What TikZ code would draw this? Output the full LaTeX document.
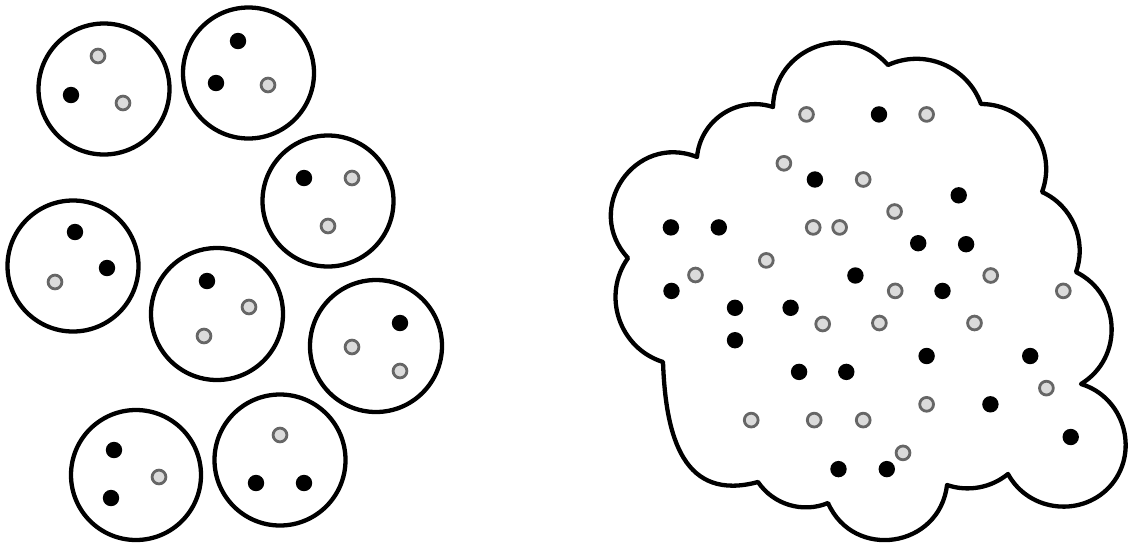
\documentclass[tikz,border=0pt]{standalone}
\definecolor{ringc}{gray}{0.4}
\definecolor{fillc}{gray}{0.86}
\tikzset{
  cell/.style={circle, draw=black, line width=4.3pt, minimum size=131pt, inner sep=0pt},
  blackdot/.style={fill=black},
  greydot/.style={fill=fillc, draw=ringc, line width=2.8pt},
  cloudline/.style={draw=black, line width=4.3pt, line join=round},
  bump/.style 2 args={bend left=#1, looseness=#2}
}
\newcommand\BD[1]{\fill[blackdot] (#1) circle[radius=8.2pt];}
\newcommand\GD[1]{\filldraw[greydot] (#1) circle[radius=6.9pt];}
\begin{document}
\begin{tikzpicture}[x=1pt,y=-1pt]
\useasboundingbox (0,0) rectangle (1129,542);
% ---- separate cells ----
\node[cell] (c1) at (104,89) {};
\node[cell] (c2) at (248.5,73) {};
\node[cell] (c3) at (328,201) {};
\node[cell] (c4) at (73,266) {};
\node[cell, minimum size=132pt] (c5) at (217,314) {};
\node[cell, minimum size=132pt] (c6) at (376,346) {};
\node[cell, minimum size=130pt] (c7) at (136,475) {};
\node[cell] (c8) at (280,460) {};
% dots in cells
\GD{98,56} \BD{71,95} \GD{123,103}
\BD{238,41} \BD{216,83} \GD{268,85}
\BD{304,178} \GD{352,178} \GD{328,226}
\BD{75,232} \BD{107,268} \GD{55,282}
\BD{207,281} \GD{249,307} \GD{204,336}
\BD{400,323} \GD{352,347} \GD{400,371}
\BD{114,450} \BD{111,498} \GD{159,477}
\GD{280,435} \BD{256,483} \BD{304,483}
% ---- merged cloud ----
\coordinate (k1) at (773,107);
\coordinate (k2) at (888,65);
\coordinate (k3) at (981,104);
\coordinate (k4) at (1042,192);
\coordinate (k5) at (1076,272);
\coordinate (k6) at (1081,384);
\coordinate (k6m) at (1112,484);
\coordinate (k7) at (1008,474);
\coordinate (k8) at (947,485);
\coordinate (k9) at (828,503);
\coordinate (k10) at (758,482);
\coordinate (k11) at (663,362);
\coordinate (k12) at (628,258);
\coordinate (k13) at (697,157);
\path[cloudline]
  (k1) to[bump={68.9}{1.25}] (k2)
       to[bump={47.2}{1.02}] (k3)
       to[bump={55.2}{1.09}] (k4)
       to[bump={42.6}{0.98}] (k5)
       to[bump={61.1}{1.15}] (k6)
       to[bump={56}{1.08}] (k6m)
       to[bump={56}{1.08}] (k7)
       to[bump={28.9}{0.91}] (k8)
       to[bump={74.7}{1.35}] (k9)
       to[bump={39.2}{0.96}] (k10)
       to[out=195, in=272, looseness=1.28] (k11)
       to[bump={54.0}{1.07}] (k12)
       to[bump={77.3}{1.40}] (k13)
       to[bump={51.3}{1.05}] (k1)
  -- cycle;
% dots in cloud
\GD{806.5,114.4} \BD{879,114.4} \GD{926.6,114.4}
\GD{783.9,163.3} \BD{814.9,179.5} \GD{863.2,179.5}
\BD{958.7,195.3} \GD{894.6,211.5}
\BD{670.9,227.4} \BD{718.8,227.4} \GD{813.2,227.4} \GD{839.6,227.4}
\BD{918.2,243.2} \BD{966.1,244.2}
\GD{766.3,260.4} \GD{695.5,275} \BD{855.4,275.5} \GD{990.7,275.5}
\BD{671.5,290.9} \GD{895.2,290.9} \BD{942.5,290.9} \GD{1063.3,290.9}
\BD{735,307.8} \BD{790.6,307.8}
\GD{822.7,324} \GD{879.4,323} \GD{974.5,323}
\BD{735,340.2}
\BD{926.6,356} \BD{1030.2,356}
\BD{799.1,371.9} \BD{846.3,371.9}
\GD{1046.4,388.1}
\GD{926.6,404.3} \BD{990.4,404.3}
\GD{751.2,420.1} \GD{814.2,420.1} \GD{863.2,420.1}
\BD{1070.7,437}
\GD{903,452.9}
\BD{838.5,469.1} \BD{886.8,469.1}
\end{tikzpicture}
\end{document}
